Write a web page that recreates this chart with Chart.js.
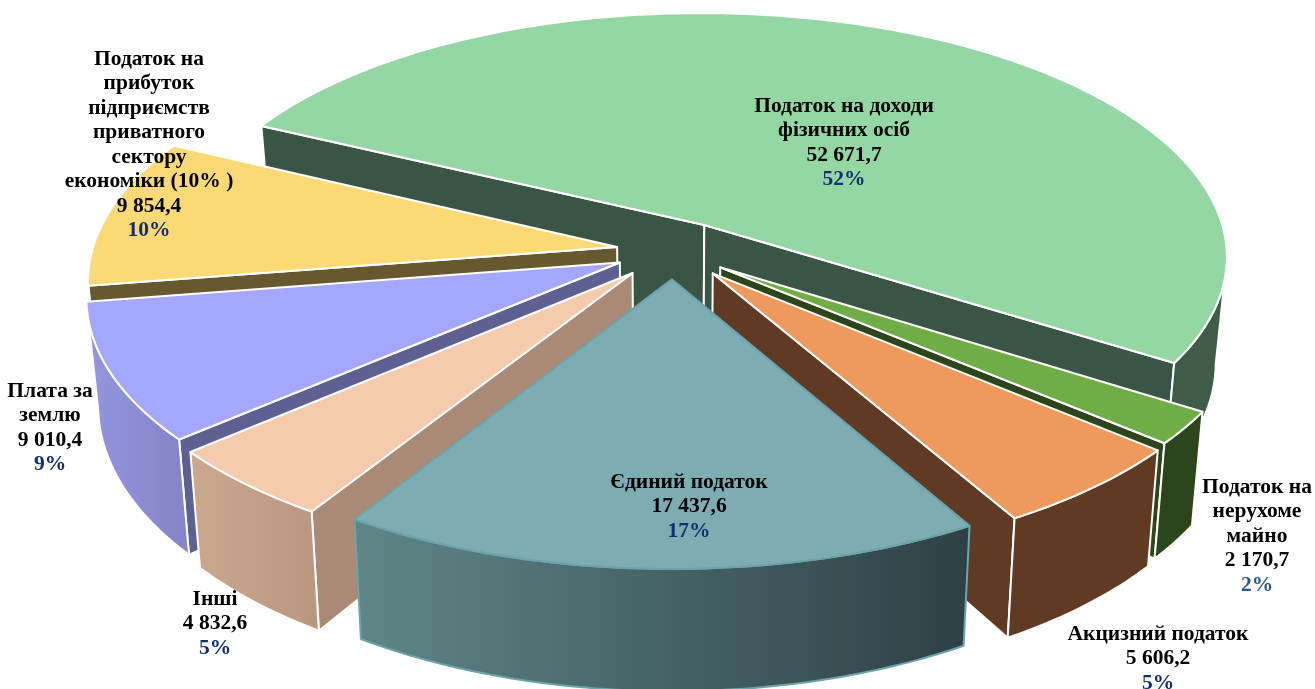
<!DOCTYPE html>
<html lang="uk">
<head>
<meta charset="utf-8">
<title>Податкові надходження</title>
<script src="https://cdn.jsdelivr.net/npm/chart.js@4"></script>
<style>
    html, body { margin: 0; padding: 0; background: #fff; overflow: hidden; }
    canvas { display: block; }
</style>
</head>
<body>
<canvas id="taxPie" width="1315" height="689"></canvas>
<script>
// дані діаграми
const categories = [
    'Податок на доходи фізичних осіб',
    'Податок на нерухоме майно',
    'Акцизний податок',
    'Єдиний податок',
    'Інші',
    'Плата за землю',
    'Податок на прибуток підприємств приватного сектору економіки (10% )'
];
const seriesValues = [52671.7, 2170.7, 5606.2, 17437.6, 4832.6, 9010.4, 9854.4];
const valueLabels = ['52 671,7', '2 170,7', '5 606,2', '17 437,6', '4 832,6', '9 010,4', '9 854,4'];
const percentLabels = ['52%', '2%', '5%', '17%', '5%', '9%', '10%'];

// стилі
const topColors = ['#94d6a4', '#70ad47', '#ee9a5e', '#7eacb3', '#f5caad', '#a4a7fb', '#fbd974'];
const wallColors = ['#3a5545', '#2c451a', '#613a24', '#5f8688', '#a98a76', '#5e6091', '#67582f'];
const sideFrom = ['#3f5c49', '#2c451a', '#613a24', '#5f8688', '#cba88e', '#9496de', '#67582f'];
const sideTo = ['#3f5c49', '#2c451a', '#613a24', '#2e4046', '#ba9880', '#8585c9', '#67582f'];
const edgeColors = ['#fff', '#fff', '#fff', '#6ba5ab', '#fff', '#fff', '#fff'];
const explodeOffsets = [40, 36, 38, 37, 38, 36, 35];
const labelLines = [
    ['Податок на доходи', 'фізичних осіб'],
    ['Податок на', 'нерухоме', 'майно'],
    ['Акцизний податок'],
    ['Єдиний податок'],
    ['Інші'],
    ['Плата за', 'землю'],
    ['Податок на', 'прибуток', 'підприємств', 'приватного', 'сектору', 'економіки (10% )']
];
const labelX = [844, 1257, 1158, 689, 215, 50, 149];
const labelTop = [106, 487, 634, 482, 599, 391, 59];
const percentColors = ['#12306f', '#25588e', '#12306f', '#12306f', '#12306f', '#12306f', '#12306f'];

// параметри перспективи
const view = { cx: 673, cy: 251, a: 525, b: 245, p: 0.127, depth: 105, shrink: 0.02 };

function project(X, Y, z) {
    const w = 1 / (1 - view.p * Y);
    const s = 1 - view.shrink * z;
    return {
        x: view.cx + view.a * X * w * s,
        y: view.cy + view.b * Y * w + view.depth * z * w
    };
}

function tracePoly(ctx, pts) {
    ctx.beginPath();
    pts.forEach((p, i) => i ? ctx.lineTo(p.x, p.y) : ctx.moveTo(p.x, p.y));
    ctx.closePath();
}

function paint(ctx, pts, fill, edge) {
    tracePoly(ctx, pts);
    ctx.fillStyle = fill;
    ctx.fill();
    ctx.strokeStyle = edge;
    ctx.lineWidth = 2;
    ctx.lineJoin = 'round';
    ctx.stroke();
}

// малює один сектор як призму з геометрії елемента arc
function drawSlice(ctx, arc, i) {
    const R = arc.outerRadius;
    const mid = (arc.startAngle + arc.endAngle) / 2;
    const t = arc.options.offset / R;
    const ox = Math.cos(mid) * t;
    const oy = Math.sin(mid) * t;
    const steps = Math.max(8, Math.ceil((arc.endAngle - arc.startAngle) * 60));
    const top = [];
    const bottom = [];
    for (let s = 0; s <= steps; s++) {
        const ang = arc.startAngle + (arc.endAngle - arc.startAngle) * s / steps;
        const X = ox + Math.cos(ang);
        const Y = oy + Math.sin(ang);
        top.push(project(X, Y, 0));
        bottom.push(project(X, Y, 1));
    }
    const apexTop = project(ox, oy, 0);
    const apexBottom = project(ox, oy, 1);

    // внутрішні стінки, лише ті що повернуті до глядача
    if (top[0].x < apexTop.x) {
        paint(ctx, [apexTop, top[0], bottom[0], apexBottom], wallColors[i], edgeColors[i]);
    }
    if (top[steps].x > apexTop.x) {
        paint(ctx, [apexTop, top[steps], bottom[steps], apexBottom], wallColors[i], edgeColors[i]);
    }

    // зовнішня стінка: лише видима частина дуги
    let first = -1, last = -1;
    for (let s = 0; s < steps; s++) {
        if (top[s + 1].x < top[s].x) {
            if (first < 0) first = s;
            last = s + 1;
        }
    }
    if (first >= 0) {
        const face = top.slice(first, last + 1).concat(bottom.slice(first, last + 1).reverse());
        const g = ctx.createLinearGradient(top[last].x, 0, top[first].x, 0);
        g.addColorStop(0, sideFrom[i]);
        g.addColorStop(1, sideTo[i]);
        paint(ctx, face, g, edgeColors[i]);
    }

    // верхня грань
    paint(ctx, [apexTop].concat(top), topColors[i], edgeColors[i]);
}

const pie3d = {
    id: 'pie3d',
    beforeDatasetsDraw(chart) {
        const ctx = chart.ctx;
        const arcs = chart.getDatasetMeta(0).data;
        const order = arcs.map((a, i) => i).sort((m, n) => {
            const ym = Math.sin((arcs[m].startAngle + arcs[m].endAngle) / 2);
            const yn = Math.sin((arcs[n].startAngle + arcs[n].endAngle) / 2);
            return ym - yn;
        });
        ctx.save();
        order.forEach(i => drawSlice(ctx, arcs[i], i));
        ctx.restore();
        return false; // стандартні плоскі сектори не потрібні
    },
    afterDraw(chart) {
        const ctx = chart.ctx;
        ctx.save();
        ctx.font = 'bold 21.5px "Liberation Serif"';
        ctx.textAlign = 'center';
        ctx.textBaseline = 'middle';
        const lineStep = 24.5;
        labelLines.forEach((lines, i) => {
            let y = labelTop[i];
            ctx.fillStyle = '#000';
            lines.forEach(line => {
                ctx.fillText(line, labelX[i], y);
                y += lineStep;
            });
            ctx.fillText(valueLabels[i], labelX[i], y);
            y += lineStep;
            ctx.fillStyle = percentColors[i];
            ctx.fillText(percentLabels[i], labelX[i], y);
        });
        ctx.restore();
    }
};

new Chart(document.getElementById('taxPie'), {
    type: 'pie',
    data: {
        labels: categories,
        datasets: [{
            data: seriesValues,
            backgroundColor: topColors,
            offset: explodeOffsets,
            borderWidth: 0
        }]
    },
    options: {
        responsive: false,
        animation: false,
        rotation: -64,
        plugins: { legend: { display: false }, tooltip: { enabled: false } }
    },
    plugins: [pie3d]
});
</script>
</body>
</html>
